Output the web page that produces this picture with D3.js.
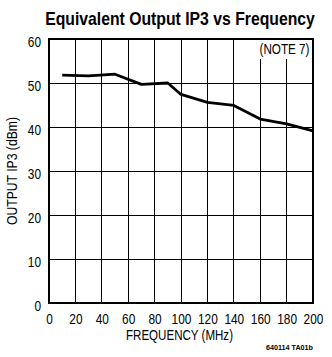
<!DOCTYPE html>
<html><head><meta charset="utf-8">
<script src="https://cdn.jsdelivr.net/npm/d3@7"></script>
<style>
html,body{margin:0;padding:0;background:#fff;}
svg{display:block;}
text{font-family:"Liberation Sans",Arial,sans-serif;fill:#000;}
</style></head>
<body>
<script>
const freqMHz = [10, 30, 50, 70, 90, 100, 120, 140, 160, 180, 200];
const ip3dBm  = [51.8, 51.6, 52.0, 49.7, 50.0, 47.4, 45.6, 44.9, 41.8, 40.7, 39.1];
const xTicks = [0, 20, 40, 60, 80, 100, 120, 140, 160, 180, 200];
const yTicks = [0, 10, 20, 30, 40, 50, 60];
const titleText = "Equivalent Output IP3 vs Frequency";
const xLabel = "FREQUENCY (MHz)";
const yLabel = "OUTPUT IP3 (dBm)";
const noteText = "(NOTE 7)";
const figId = "640114 TA01b";
const noteClearFreqs = [160, 180];
const noteClearTop = 55.5;

const W = 332, H = 357;
const m = {left: 49, right: 19, top: 39, bottom: 54};
const digitW = 6.6;
const svg = d3.select("body").append("svg").attr("width", W).attr("height", H);
const x = d3.scaleLinear().domain([0, 200]).range([m.left, W - m.right]);
const y = d3.scaleLinear().domain([0, 60]).range([H - m.bottom, m.top]);

// grid
const g = svg.append("g");
g.selectAll(".vg").data(xTicks.slice(1, -1)).enter().append("line")
  .attr("x1", d => x(d)).attr("x2", d => x(d))
  .attr("y1", y(0)).attr("y2", d => noteClearFreqs.includes(d) ? y(noteClearTop) : y(60))
  .attr("stroke", "#000").attr("stroke-width", 1).attr("shape-rendering", "crispEdges");
g.selectAll(".hg").data(yTicks.slice(1, -1)).enter().append("line")
  .attr("x1", x(0)).attr("x2", x(200))
  .attr("y1", d => y(d)).attr("y2", d => y(d))
  .attr("stroke", "#000").attr("stroke-width", 1).attr("shape-rendering", "crispEdges");
svg.append("rect").attr("x", x(0)).attr("y", y(60))
  .attr("width", x(200) - x(0)).attr("height", y(0) - y(60))
  .attr("fill", "none").attr("stroke", "#000").attr("stroke-width", 1.3).attr("shape-rendering", "crispEdges");

// axes labels
const xAxis = d3.axisBottom(x).tickValues(xTicks).tickSize(0).tickPadding(11).tickFormat(d3.format("d"));
const xg = svg.append("g").attr("transform", `translate(0,${y(0)})`).call(xAxis);
xg.select(".domain").remove();
xg.selectAll("text").attr("font-size", 14.5).attr("font-family", null)
  .attr("textLength", d => String(d).length * digitW).attr("lengthAdjust", "spacingAndGlyphs");

const yAxis = d3.axisLeft(y).tickValues(yTicks).tickSize(0).tickPadding(8).tickFormat(d3.format("d"));
const yg = svg.append("g").attr("transform", `translate(${x(0)},0)`).call(yAxis);
yg.select(".domain").remove();
yg.selectAll("text").attr("font-size", 14.5).attr("font-family", null).attr("dy", "0.5em")
  .attr("textLength", d => String(d).length * digitW).attr("lengthAdjust", "spacingAndGlyphs");

// line
svg.append("path").datum(freqMHz.map((f, i) => [f, ip3dBm[i]]))
  .attr("d", d3.line().x(d => x(d[0])).y(d => y(d[1])))
  .attr("fill", "none").attr("stroke", "#000").attr("stroke-width", 2.8).attr("stroke-linejoin", "round");

// texts
function condensed(sel, len) { return sel.attr("textLength", len).attr("lengthAdjust", "spacingAndGlyphs"); }
// title: condensed via horizontal scale so its box stays inside the page
const title = svg.append("text").attr("text-anchor", "middle")
  .attr("font-size", 18).attr("font-weight", "bold").text(titleText);
const tw = title.node().getComputedTextLength();
title.attr("transform", `translate(180,25) scale(${270 / tw},1)`);

condensed(svg.append("text").attr("x", 179.5).attr("y", 340).attr("text-anchor", "middle")
  .attr("font-size", 14.5).text(xLabel), 107);
condensed(svg.append("text").attr("transform", "translate(16.5,171) rotate(-90)").attr("text-anchor", "middle")
  .attr("font-size", 14.5).text(yLabel), 108);
condensed(svg.append("text").attr("x", 309.5).attr("y", 54).attr("text-anchor", "end")
  .attr("font-size", 14).text(noteText), 50);
condensed(svg.append("text").attr("x", 313).attr("y", 350).attr("text-anchor", "end")
  .attr("font-size", 7.5).attr("font-weight", "bold").text(figId), 47);
</script>
</body></html>
